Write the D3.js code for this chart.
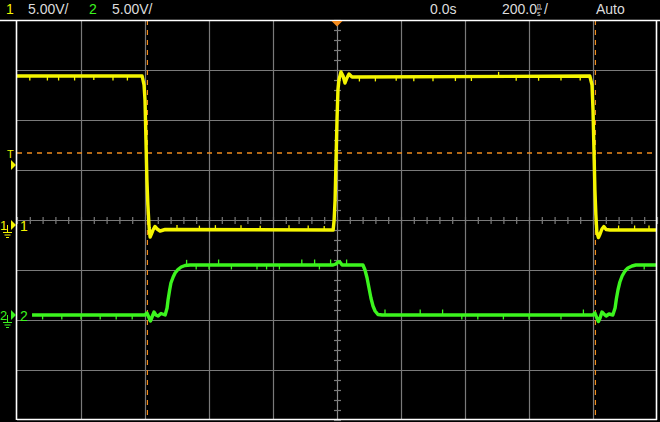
<!DOCTYPE html>
<html><head><meta charset="utf-8">
<script src="https://cdn.jsdelivr.net/npm/d3@7/dist/d3.min.js"></script>
<style>html,body{margin:0;padding:0;background:#000;}svg{display:block;}</style>
</head><body>
<svg id="c" width="660" height="422"></svg>
<script>
// ---- data ----
// time in ns, voltage in V
const timeTicks = [-1000,-800,-600,-400,-200,0,200,400,600,800,1000];
const divTicks = [-4,-3,-2,-1,0,1,2,3,4];
const ch1Time = [-1000,-609,-603,-600,-597,-594,-591,-587,-584,-580,-575,-569,-562,-553,-537,-12,-9,-6,-3,0,3,6,12.5,19,25,31,37.5,47,790,797,800,803,806,809,812,817,822,828,834,841,853,1000];
const ch1Volt = [14.9,14.9,14.0,12.5,8.5,4.5,2.0,-0.3,-1.2,-0.9,-0.5,-0.15,-0.4,-0.6,-0.45,-0.5,0.5,2.5,6.5,10.5,13.5,14.5,15.3,14.9,14.2,14.7,15.1,14.8,14.9,14.0,11.5,7.5,3.5,1.0,-0.7,-1.25,-0.9,-0.4,-0.15,-0.45,-0.5,-0.5];
const ch2Time = [-953,-600,-594,-587,-583,-578,-572,-566,-559,-550,-537,-531,-528,-523,-519,-512,-506,-497,-487,-475,-459,-12,-3,3,9,16,81,87.5,94,100,106,112.5,119,128,141,800,806,812,817,822,828,834,841,850,862,869,873,878,884,891,900,909,922,934,1000];
const ch2Volt = [0,0,0.2,-0.3,-0.6,-0.2,0.3,0,-0.1,0.15,0,0.7,1.5,2.5,3.2,3.8,4.2,4.55,4.8,4.95,5.0,5.0,5.1,5.3,5.3,5.0,5.0,4.5,3.7,2.7,1.7,0.9,0.4,0.05,0,0,0.2,-0.3,-0.65,-0.3,0.3,0.1,-0.1,0.1,0,0.7,1.6,2.5,3.3,3.9,4.4,4.7,4.9,5.0,5.0];
// small noise spikes on the traces (time ns, deviation V)
const ch1SpikeTime = [-960,-905,-870,-820,-760,-700,-655,-500,-430,-380,-300,-240,-150,-90,-40,70,120,185,240,300,370,420,505,560,630,700,760,880,930,975];
const ch1SpikeVolt = [-0.3,-0.3,-0.3,-0.3,-0.25,-0.3,-0.3,0.3,0.25,0.3,0.3,0.25,0.3,0.3,0.25,-0.3,-0.3,-0.25,-0.3,-0.3,-0.3,-0.3,0.3,-0.3,-0.3,-0.3,-0.3,0.3,0.3,0.3];
const ch2SpikeTime = [-920,-860,-800,-740,-690,-640,-470,-440,-400,-370,-330,-250,-220,-180,-110,-70,-55,-20,30,150,260,330,390,440,520,600,700,770,960];
const ch2SpikeVolt = [-0.3,-0.3,-0.3,-0.3,-0.3,-0.3,0.4,-0.3,-0.3,0.4,-0.3,-0.3,-0.3,-0.3,0.4,0.4,-0.3,0.4,0.4,0.4,0.4,0.4,-0.3,-0.3,-0.3,-0.3,-0.3,0.4,-0.3];
const headerLabels = ["1","5.00V/","2","5.00V/","0.0s","200.0","/","Auto"];
const triggerLevel = 7.2;      // V on ch1
const cursorTimes = [-594, 806];

// ---- geometry ----
const L=17, R=657, T=20, B=420;
const svg = d3.select("#c");
const x = d3.scaleLinear().domain([-1000,1000]).range([L,R]);
const yDiv = d3.scaleLinear().domain([-4,4]).range([B,T]);
const y1 = d3.scaleLinear().domain([-19.5,20.5]).range([B,T]);
const y2 = d3.scaleLinear().domain([-10.5,29.5]).range([B,T]);

svg.append("rect").attr("width",660).attr("height",422).attr("fill","#000");

// grid
const g = svg.append("g");
g.selectAll("line.v").data(timeTicks.slice(1,-1)).join("line")
  .attr("x1",d=>x(d)+0.5).attr("x2",d=>x(d)+0.5).attr("y1",T).attr("y2",B)
  .attr("stroke",d=>d===0?"#8a8a8a":"#7a7a7a").attr("stroke-width",1.2);
g.selectAll("line.h").data(divTicks.slice(1,-1)).join("line")
  .attr("y1",d=>yDiv(d)+0.5).attr("y2",d=>yDiv(d)+0.5).attr("x1",L).attr("x2",R)
  .attr("stroke","#7a7a7a").attr("stroke-width",1.2);
// minor ticks on center lines
const minorT = d3.range(-1000,1001,40);
g.selectAll("line.mt").data(minorT).join("line")
  .attr("x1",d=>x(d)+0.5).attr("x2",d=>x(d)+0.5).attr("y1",yDiv(0)-3).attr("y2",yDiv(0)+4)
  .attr("stroke","#7a7a7a").attr("stroke-width",1.2);
const minorV = d3.range(-4,4.01,0.2);
g.selectAll("line.mv").data(minorV).join("line")
  .attr("y1",d=>yDiv(d)+0.5).attr("y2",d=>yDiv(d)+0.5).attr("x1",x(0)-3).attr("x2",x(0)+4)
  .attr("stroke","#7a7a7a").attr("stroke-width",1.2);

// trigger level & cursors (dashed orange)
svg.append("line").attr("x1",L).attr("x2",R).attr("y1",y1(triggerLevel)).attr("y2",y1(triggerLevel))
  .attr("stroke","#f08c1e").attr("stroke-width",1.3).attr("stroke-dasharray","5,5");
svg.selectAll("line.cur").data(cursorTimes).join("line")
  .attr("x1",d=>x(d)+0.5).attr("x2",d=>x(d)+0.5).attr("y1",T).attr("y2",B)
  .attr("stroke","#f08c1e").attr("stroke-width",1.2).attr("stroke-dasharray","5,5");

// traces
function trace(times, volts, ys, color, sT, sV){
  const pts = times.map((t,i)=>[t,volts[i]]);
  const line = d3.line().x(d=>x(d[0])).y(d=>ys(d[1]));
  svg.append("path").attr("d",line(pts)).attr("fill","none")
    .attr("stroke",color).attr("stroke-width",3.4).attr("stroke-linejoin","round");
  const base = t=>{ for(let i=1;i<times.length;i++){ if(t<=times[i]){ const a=(t-times[i-1])/(times[i]-times[i-1]); return volts[i-1]+a*(volts[i]-volts[i-1]); } } return volts[volts.length-1]; };
  svg.selectAll(null).data(sT.map((t,i)=>[t,sV[i]])).join("line")
    .attr("x1",d=>x(d[0])).attr("x2",d=>x(d[0]))
    .attr("y1",d=>ys(base(d[0]))).attr("y2",d=>ys(base(d[0])+d[1])+ (d[1]>0?-1.5:1.5))
    .attr("stroke",color).attr("stroke-width",1.3);
}
trace(ch1Time, ch1Volt, y1, "#f5f500", ch1SpikeTime, ch1SpikeVolt);
trace(ch2Time, ch2Volt, y2, "#3cf51e", ch2SpikeTime, ch2SpikeVolt);

// frame
svg.append("line").attr("x1",0).attr("x2",660).attr("y1",T+0.5).attr("y2",T+0.5).attr("stroke","#fff").attr("stroke-width",1.6);
svg.append("line").attr("x1",L-0.5).attr("x2",L-0.5).attr("y1",T).attr("y2",B).attr("stroke","#fff").attr("stroke-width",1.6);
svg.append("line").attr("x1",L).attr("x2",R).attr("y1",B-0.5).attr("y2",B-0.5).attr("stroke","#fff").attr("stroke-width",1.6);
svg.append("line").attr("x1",R-0.5).attr("x2",R-0.5).attr("y1",T).attr("y2",B).attr("stroke","#fff").attr("stroke-width",1.6);

// trigger position marker (top)
svg.append("path").attr("d",`M${x(0)-5.5},${T+1} L${x(0)+5.5},${T+1} L${x(0)},${T+6.5} Z`).attr("fill","#f58c1e");

// header
const font = "'Liberation Sans', Arial, sans-serif";
const hdr = [
  {t:headerLabels[0], x:6, c:"#f5f500"},
  {t:headerLabels[1], x:28, c:"#dcdcdc"},
  {t:headerLabels[2], x:89, c:"#3cf51e"},
  {t:headerLabels[3], x:112, c:"#dcdcdc"},
  {t:headerLabels[4], x:430, c:"#dcdcdc"},
  {t:headerLabels[5], x:502, c:"#dcdcdc"},
  {t:headerLabels[6], x:544, c:"#dcdcdc"},
  {t:headerLabels[7], x:596, c:"#dcdcdc"}
];
svg.selectAll("text.h").data(hdr).join("text")
  .attr("x",d=>d.x).attr("y",14).attr("fill",d=>d.c)
  .style("font-family",font).style("font-size","14px").text(d=>d.t);
// stacked "ns"
svg.append("text").attr("x",537).attr("y",7.5).attr("fill","#dcdcdc").style("font-family",font).style("font-size","7px").text("n");
svg.append("text").attr("x",537).attr("y",16).attr("fill","#dcdcdc").style("font-family",font).style("font-size","7px").text("s");
svg.append("line").attr("x1",536.5).attr("x2",542).attr("y1",9).attr("y2",9).attr("stroke","#dcdcdc").attr("stroke-width",1);

// left markers
const yel="#f5f500", grn="#3cf51e";
// trigger level marker
svg.append("text").attr("x",7).attr("y",158).attr("fill",yel).style("font-family",font).style("font-size","11px").text("T");
svg.append("path").attr("d",`M11,${y1(triggerLevel)+7} L16,${y1(triggerLevel)+12} L11,${y1(triggerLevel)+17} Z`).attr("fill",yel);
function chMarker(ys, color, label){
  const yy = ys(0);
  svg.append("text").attr("x",0).attr("y",yy+5).attr("fill",color).style("font-family",font).style("font-size","13px").text(label);
  svg.append("path").attr("d",`M11,${yy-5} L16,${yy} L11,${yy+5} Z`).attr("fill",color);
  svg.append("path").attr("d",`M7.5,${yy} L7.5,${yy+7} M3,${yy+7.5} L12,${yy+7.5} M4.5,${yy+10} L10.5,${yy+10} M6,${yy+12.5} L9,${yy+12.5}`)
    .attr("stroke",color).attr("stroke-width",1).attr("fill","none");
  svg.append("text").attr("x",20).attr("y",yy+6).attr("fill",color).style("font-family",font).style("font-size","14px").text(label);
}
chMarker(y1, yel, "1");
chMarker(y2, grn, "2");
</script>
</body></html>
